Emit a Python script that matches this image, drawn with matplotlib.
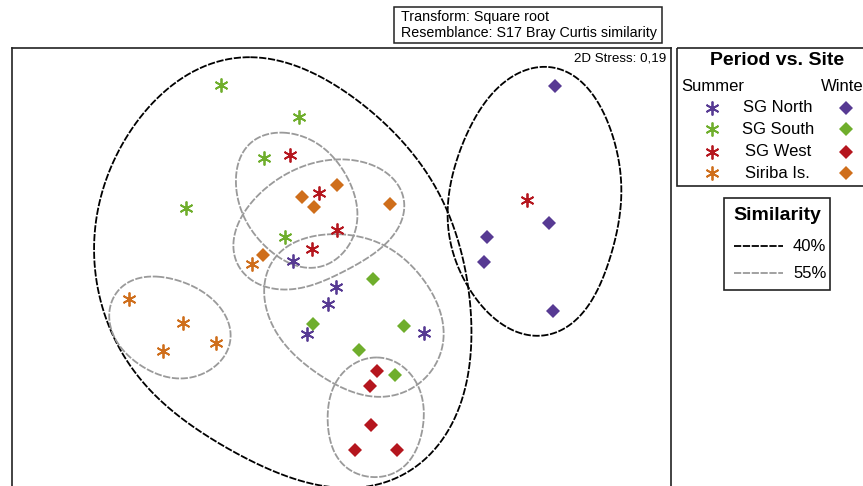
import numpy as np
import matplotlib
matplotlib.use("Agg")
import matplotlib.pyplot as plt
from matplotlib.lines import Line2D
from matplotlib.patches import Rectangle

plt.rcParams['font.family'] = ['Liberation Sans', 'DejaVu Sans']

# ---- nMDS ordination coordinates -------------------------------------------
sites = ['SG North', 'SG South', 'SG West', 'Siriba Is.']
site_colors = ['#573a93', '#6fae2c', '#b5161e', '#cf6e1b']

summer_x = {
    'SG North':   [-0.48, -0.05, -0.13, -0.34, 0.83],
    'SG South':   [-1.20, -0.42, -0.77, -1.55, -0.56],
    'SG West':    [-0.51, -0.22, -0.04, -0.29, 1.86],
    'Siriba Is.': [-0.89, -2.12, -1.58, -1.25, -1.78],
}
summer_y = {
    'SG North':   [0.09, -0.17, -0.34, -0.64, -0.63],
    'SG South':   [1.85, 1.53, 1.12, 0.62, 0.33],
    'SG West':    [1.15, 0.77, 0.40, 0.21, 0.70],
    'Siriba Is.': [0.06, -0.29, -0.53, -0.73, -0.81],
}
winter_x = {
    'SG North':   [2.14, 2.08, 1.46, 1.43, 2.12],
    'SG South':   [0.32, -0.28, 0.63, 0.18, 0.54],
    'SG West':    [0.36, 0.29, 0.30, 0.14, 0.56],
    'Siriba Is.': [-0.04, -0.39, -0.27, 0.49, -0.78],
}
winter_y = {
    'SG North':   [1.84, 0.47, 0.33, 0.08, -0.41],
    'SG South':   [-0.09, -0.54, -0.56, -0.80, -1.05],
    'SG West':    [-1.01, -1.16, -1.55, -1.80, -1.80],
    'Siriba Is.': [0.85, 0.73, 0.63, 0.66, 0.15],
}

# ---- cluster similarity contours (outline vertices, ordination units) -----
contour_40 = [
    [(-0.91, 2.15), (-0.08, 1.87), (0.42, 1.47), (0.86, 0.97), (1.09, 0.53),
     (1.26, -0.03), (1.29, -0.47), (1.29, -0.80), (1.22, -1.23), (1.06, -1.67),
     (0.79, -1.93), (0.42, -2.13), (-0.01, -2.18), (-0.41, -2.10), (-0.91, -1.90),
     (-1.54, -1.53), (-1.98, -1.13), (-2.24, -0.73), (-2.41, -0.20), (-2.48, 0.20),
     (-2.46, 0.60), (-2.34, 0.90), (-2.08, 1.43), (-1.64, 1.87), (-1.31, 2.06)],
    [(2.07, 2.04), (2.39, 1.90), (2.62, 1.57), (2.76, 1.20), (2.80, 0.83),
     (2.77, 0.43), (2.66, 0.03), (2.46, -0.37), (2.22, -0.60), (1.94, -0.66),
     (1.66, -0.57), (1.39, -0.33), (1.19, -0.03), (1.09, 0.30), (1.07, 0.57),
     (1.12, 0.97), (1.26, 1.37), (1.46, 1.70), (1.72, 1.93)],
]
contour_55 = [
    [(-0.58, 1.37), (-0.24, 1.27), (0.02, 1.00), (0.14, 0.73), (0.16, 0.50),
     (0.07, 0.23), (-0.11, 0.07), (-0.31, 0.02), (-0.58, 0.10), (-0.81, 0.30),
     (-0.98, 0.53), (-1.04, 0.83), (-1.01, 1.13), (-0.84, 1.32)],
    [(0.02, 1.10), (0.36, 1.03), (0.59, 0.83), (0.64, 0.63), (0.56, 0.40),
     (0.32, 0.17), (0.02, -0.03), (-0.38, -0.17), (-0.68, -0.18), (-0.94, -0.07),
     (-1.08, 0.17), (-1.04, 0.43), (-0.84, 0.73), (-0.54, 0.97), (-0.24, 1.08)],
    [(-0.11, 0.35), (0.26, 0.32), (0.56, 0.17), (0.82, -0.10), (0.99, -0.40),
     (1.02, -0.70), (0.94, -0.97), (0.72, -1.17), (0.42, -1.27), (0.16, -1.23),
     (-0.14, -1.10), (-0.44, -0.87), (-0.68, -0.57), (-0.76, -0.23), (-0.71, 0.07),
     (-0.48, 0.27)],
    [(0.36, -0.87), (0.66, -1.00), (0.81, -1.27), (0.82, -1.53), (0.72, -1.87),
     (0.52, -2.03), (0.32, -2.07), (0.09, -2.00), (-0.08, -1.80), (-0.13, -1.50),
     (-0.08, -1.17), (0.09, -0.97)],
    [(-1.84, -0.07), (-1.54, -0.13), (-1.31, -0.28), (-1.14, -0.48), (-1.11, -0.72),
     (-1.21, -0.92), (-1.48, -1.07), (-1.74, -1.07), (-2.01, -0.95), (-2.24, -0.72),
     (-2.32, -0.45), (-2.24, -0.22), (-2.08, -0.10)],
]


def smooth_outline(pts, harmonics=4, n=600):
    """Closed smooth outline: Catmull-Rom through the vertices, then a
    low-order Fourier fit to iron out small wiggles."""
    P = np.asarray(pts, dtype=float)
    m = len(P)
    t = np.linspace(0, 1, 40, endpoint=False)[:, None]
    segs = []
    for i in range(m):
        p0, p1, p2, p3 = P[(i - 1) % m], P[i], P[(i + 1) % m], P[(i + 2) % m]
        segs.append(0.5 * (2 * p1 + (-p0 + p2) * t
                           + (2 * p0 - 5 * p1 + 4 * p2 - p3) * t ** 2
                           + (-p0 + 3 * p1 - 3 * p2 + p3) * t ** 3))
    c = np.vstack(segs)
    # resample by arc length
    d = np.r_[0, np.cumsum(np.hypot(*np.diff(np.vstack([c, c[:1]]), axis=0).T))]
    s = np.linspace(0, d[-1], n, endpoint=False)
    cc = np.vstack([c, c[:1]])
    x = np.interp(s, d, cc[:, 0])
    y = np.interp(s, d, cc[:, 1])
    z = np.fft.fft(x + 1j * y)
    keep = np.zeros_like(z)
    keep[:harmonics + 1] = z[:harmonics + 1]
    keep[-harmonics:] = z[-harmonics:]
    zz = np.fft.ifft(keep)
    zz = np.r_[zz, zz[:1]]
    return zz.real, zz.imag


W, H = 863, 486
fig = plt.figure(figsize=(W / 100, H / 100), dpi=100)

# main ordination panel
ax = fig.add_axes([12.3 / W, 1 - 495 / H, (670.7 - 12.3) / W, (495 - 48.3) / H])
ax.set_xlim(-3.287, 3.297)
ax.set_ylim(-2.25, 2.217)
ax.set_xticks([])
ax.set_yticks([])
for s in ax.spines.values():
    s.set_linewidth(1.2)
    s.set_color('#222222')

dash40 = dict(color='black', lw=1.3, ls=(0, (4, 0.9)), zorder=2)
dash55 = dict(color='#9a9a9a', lw=1.3, ls=(0, (4, 0.9)), zorder=2)
for c in contour_40:
    cx, cy = smooth_outline(c, harmonics=5)
    ax.plot(cx, cy, **dash40)
for c in contour_55:
    cx, cy = smooth_outline(c, harmonics=4)
    ax.plot(cx, cy, **dash55)

star = (6, 2, 0)
for site, col in zip(sites, site_colors):
    ax.plot(summer_x[site], summer_y[site], ls='none', marker=star, ms=10,
            mew=1.3, mec=col, color=col, zorder=4)
    ax.plot(winter_x[site], winter_y[site], ls='none', marker='D', ms=7.6,
            mew=0, color=col, zorder=4)

ax.text(0.993, 0.978, '2D Stress: 0,19', transform=ax.transAxes,
        ha='right', va='center', fontsize=9.6)

# overlay in figure pixels for header and legends
ov = fig.add_axes([0, 0, 1, 1], zorder=5)
ov.set_xlim(0, W)
ov.set_ylim(H, 0)
ov.axis('off')
ov.patch.set_alpha(0)

ov.add_patch(Rectangle((394, 7), 662 - 394, 42.7 - 7, fill=False,
                       ec='#222222', lw=1.1))
ov.text(400.7, 16.7, 'Transform: Square root', ha='left', va='center',
        fontsize=10.3)
ov.text(400.7, 33.5, 'Resemblance: S17 Bray Curtis similarity', ha='left',
        va='center', fontsize=10.3)

# Period vs. Site legend
ov.add_patch(Rectangle((677.3, 48.3), 200, 185.7 - 48.3, fill=False,
                       ec='#222222', lw=1.2, clip_on=False))
ov.text(777, 60.7, 'Period vs. Site', ha='center', va='center',
        fontsize=14, fontweight='bold')
ov.text(681.5, 86.7, 'Summer', ha='left', va='center', fontsize=12)
ov.text(820.7, 86.7, 'Winter', ha='left', va='center', fontsize=12)
row_y = [107.7, 129.5, 151.7, 173.5]
for site, col, yy in zip(sites, site_colors, row_y):
    ov.plot([711.7], [yy], ls='none', marker=star, ms=10, mew=1.3,
            mec=col, color=col)
    ov.plot([845.7], [yy], ls='none', marker='D', ms=7.6, mew=0, color=col)
    ov.text(777.8, yy, site, ha='center', va='center', fontsize=12)

# Similarity legend
ov.add_patch(Rectangle((724.3, 198.3), 830.3 - 724.3, 290 - 198.3,
                       fill=False, ec='#222222', lw=1.2))
ov.text(777, 215, 'Similarity', ha='center', va='center', fontsize=14,
        fontweight='bold')
for yy, lab, st in [(246, '40%', dash40), (273.3, '55%', dash55)]:
    ov.add_line(Line2D([734, 783], [yy, yy], color=st['color'], lw=1.3,
                       ls=st['ls']))
    ov.text(793, yy, lab, ha='left', va='center', fontsize=12)

fig.savefig('out.png', dpi=100)
